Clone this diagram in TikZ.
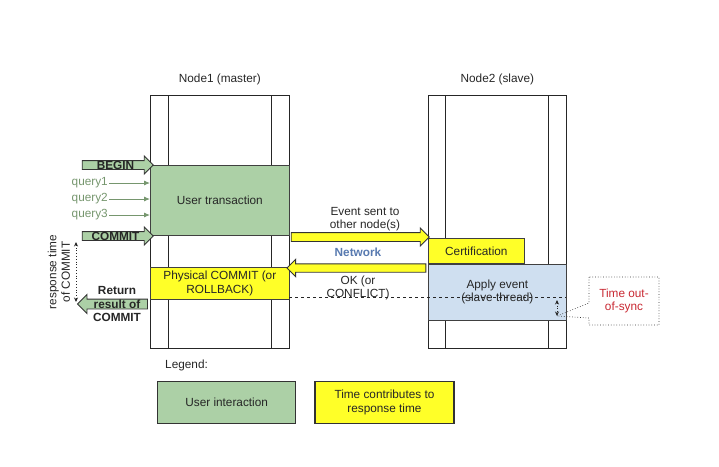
\documentclass[tikz,border=0pt]{standalone}
\usepackage{fontspec}
\setmainfont{Liberation Sans}
\usetikzlibrary{positioning, arrows.meta, shapes.arrows}

\definecolor{usrgreen}{RGB}{172,208,166}
\definecolor{rspyellow}{RGB}{255,255,40}
\definecolor{applyblue}{RGB}{207,223,240}
\definecolor{netblue}{RGB}{88,122,176}
\definecolor{qgreen}{RGB}{118,150,110}
\definecolor{syncred}{RGB}{200,40,50}
\newcommand{\dgfont}{\fontsize{11.8}{13.5}\selectfont}

\begin{document}
\begin{tikzpicture}[x=1pt, y=-1pt, font=\dgfont, text=black!85]
	\tikzset{
		lane/.style={
				rectangle, draw=black!85, line width=0.7pt, inner sep=0pt,
			},
		laneline/.style={draw=black!85, line width=0.7pt},
		usrbox/.style={
				rectangle, draw=black!75, line width=0.7pt, fill=usrgreen,
				inner sep=0pt, align=center,
			},
		rspbox/.style={
				rectangle, draw=black!75, line width=0.7pt, fill=rspyellow,
				inner sep=0pt, align=center,
			},
		applybox/.style={
				rectangle, draw=black!75, line width=0.7pt, fill=applyblue,
				inner sep=0pt, align=center,
			},
		fat/.style={
				single arrow, draw=black!80, line width=0.9pt,
				inner xsep=0pt, inner ysep=#1, single arrow head extend=4.5pt,
				single arrow tip angle=90,
			},
		fat/.default=4pt,
		qtext/.style={text=qgreen, anchor=east, inner sep=1pt},
		qarrow/.style={draw=qgreen, line width=0.9pt, -{Latex[length=6pt, width=5pt]}},
		rtarrow/.style={
				draw=black!85, dotted, line width=0.8pt,
				{Stealth[length=4.5pt, width=4pt]}-{Stealth[length=4.5pt, width=4pt]},
			},
		bold/.style={font=\dgfont\bfseries, align=center},
	}
	\useasboundingbox (0,0) rectangle (719,466);

	% the two nodes of the cluster
	\node[lane, minimum width=139pt, minimum height=253pt, anchor=north west] (node1) at (150,95) {};
	\draw[laneline] ([xshift=18pt]node1.north west) -- ([xshift=18pt]node1.south west);
	\draw[laneline] ([xshift=-18pt]node1.north east) -- ([xshift=-18pt]node1.south east);
	\node[above=7pt of node1] (title1) {Node1 (master)};

	\node[lane, minimum width=138pt, minimum height=253pt, anchor=north west] (node2) at (428,95) {};
	\draw[laneline] ([xshift=17pt]node2.north west) -- ([xshift=17pt]node2.south west);
	\draw[laneline] ([xshift=-18pt]node2.north east) -- ([xshift=-18pt]node2.south east);
	\node[above=7pt of node2] (title2) {Node2 (slave)};

	% master side
	\node[usrbox, minimum width=139pt, minimum height=70pt, anchor=north west] (usertx) at (150,165) {User transaction};
	\node[rspbox, minimum width=139pt, minimum height=32pt, anchor=north west] (phys) at (150,267) {Physical COMMIT (or\\ROLLBACK)};

	\node[fat, fill=usrgreen, minimum height=71pt, label={[bold]center:BEGIN}] (begin) at (115.5,165) {};
	\node[qtext] (q1) at (109,183) {query1};
	\node[qtext] (q2) at (109,199) {query2};
	\node[qtext] (q3) at (109,215) {query3};
	\draw[qarrow] (q1.east) -- (q1.east -| usertx.west);
	\draw[qarrow] (q2.east) -- (q2.east -| usertx.west);
	\draw[qarrow] (q3.east) -- (q3.east -| usertx.west);
	\node[fat, fill=usrgreen, minimum height=71pt, label={[bold]center:COMMIT}] (commit) at (115.5,236) {};

	\node[fat=4.5pt, fill=usrgreen, minimum height=70pt, shape border rotate=180] (ret) at (115,304) {};
	\node[bold] (retlbl) at (117,304) {Return\\result of\\COMMIT};

	\coordinate (rttop) at (76,242);
	\coordinate (rtbot) at (76,302);
	\draw[rtarrow] (rttop) -- (rtbot);
	\node[rotate=90, align=center, inner sep=0pt] (rtlbl) at (59,272) {response time\\of COMMIT};

	% network
	\node[fat, fill=rspyellow, minimum height=138pt] (evt) at (358,237) {};
	\node[align=center] (evtlbl) at (365,219) {Event sent to\\other node(s)};
	\node[font=\dgfont\bfseries, text=netblue] (net) at (358,252) {Network};
	\node[fat=3.75pt, fill=rspyellow, minimum height=139pt, shape border rotate=180] (ok) at (358.5,268) {};
	\node[align=center] (oklbl) at (358,288) {OK (or\\CONFLICT)};

	% slave side
	\node[rspbox, minimum width=96pt, minimum height=25pt, anchor=north west] (cert) at (428,238) {Certification};
	\node[applybox, minimum width=138pt, minimum height=56pt, anchor=north west] (apply) at (cert.south west) {Apply event\\(slave thread)};

	\draw[black!85, dashed, line width=0.6pt] (289,297) -- (566,297);
	\coordinate (oostop) at (557,300);
	\coordinate (oosbot) at (557,316);
	\draw[rtarrow] (oostop) -- (oosbot);

	\node[text=syncred, align=center] (sync) at (624,301) {Time out-\\of-sync};
	\draw[black!80, dotted, line width=0.7pt]
		(589,277) -- (589,303) -- (oosbot) -- (589,318) -- (589,325)
		-- (659,325) -- (659,277) -- cycle;

	% legend
	\node[anchor=west, inner sep=0pt] (legend) at (165,365) {Legend:};
	\node[usrbox, draw=black!80, line width=1.3pt, minimum width=138pt, minimum height=42pt, anchor=north west] (leg1) at (157,381) {User interaction};
	\node[rspbox, draw=black!80, line width=1.3pt, minimum width=139pt, minimum height=42pt, right=18pt of leg1] (leg2) {Time contributes to\\response time};
\end{tikzpicture}
\end{document}
